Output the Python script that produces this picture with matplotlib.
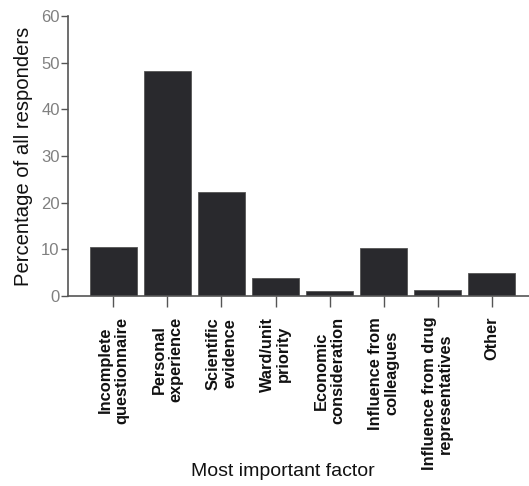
import matplotlib.pyplot as plt
import numpy as np

plt.rcParams['font.family'] = ['Liberation Sans', 'DejaVu Sans']

factors = ['Incomplete\nquestionnaire', 'Personal\nexperience', 'Scientific\nevidence',
           'Ward/unit\npriority', 'Economic\nconsideration', 'Influence from\ncolleagues',
           'Influence from drug\nrepresentatives', 'Other']
percent = [10.6, 48.2, 22.2, 3.8, 1.0, 10.3, 1.2, 5.0]
yticks = [0, 10, 20, 30, 40, 50, 60]

fig = plt.figure(figsize=(5.29, 4.86), dpi=100)
ax = fig.add_axes([0.1285, 0.391, 0.8715, 0.576])

x = np.arange(len(factors))
ax.bar(x, percent, width=0.88, color='#29292d', edgecolor='#555555', linewidth=0.6)

ax.set_xlim(-0.84, 7.69)
ax.set_ylim(0, 60)
ax.set_yticks(yticks)
ax.set_xticks(x)
ax.set_xticklabels(factors, rotation=90, ha='center', va='top', multialignment='center',
                   fontsize=11.8, fontweight='bold', color='#111111', linespacing=1.1)

# axes style
for s in ['top', 'right']:
    ax.spines[s].set_visible(False)
for s in ['left', 'bottom']:
    ax.spines[s].set_color('#555555')
    ax.spines[s].set_linewidth(1.2)
ax.tick_params(axis='x', direction='out', length=8, width=1.0, color='#555555', pad=7)
ax.tick_params(axis='y', direction='out', length=5, width=1.0, color='#555555', labelsize=12,
               labelcolor='#808080', pad=1)

ax.set_ylabel('Percentage of all responders', fontsize=14.6, color='#111111')
ax.yaxis.set_label_coords(-0.075, 0.5)
fig.text(0.535, 0.03, 'Most important factor', fontsize=14, ha='center', va='center', color='#111111')

plt.savefig('out.png', dpi=100)
